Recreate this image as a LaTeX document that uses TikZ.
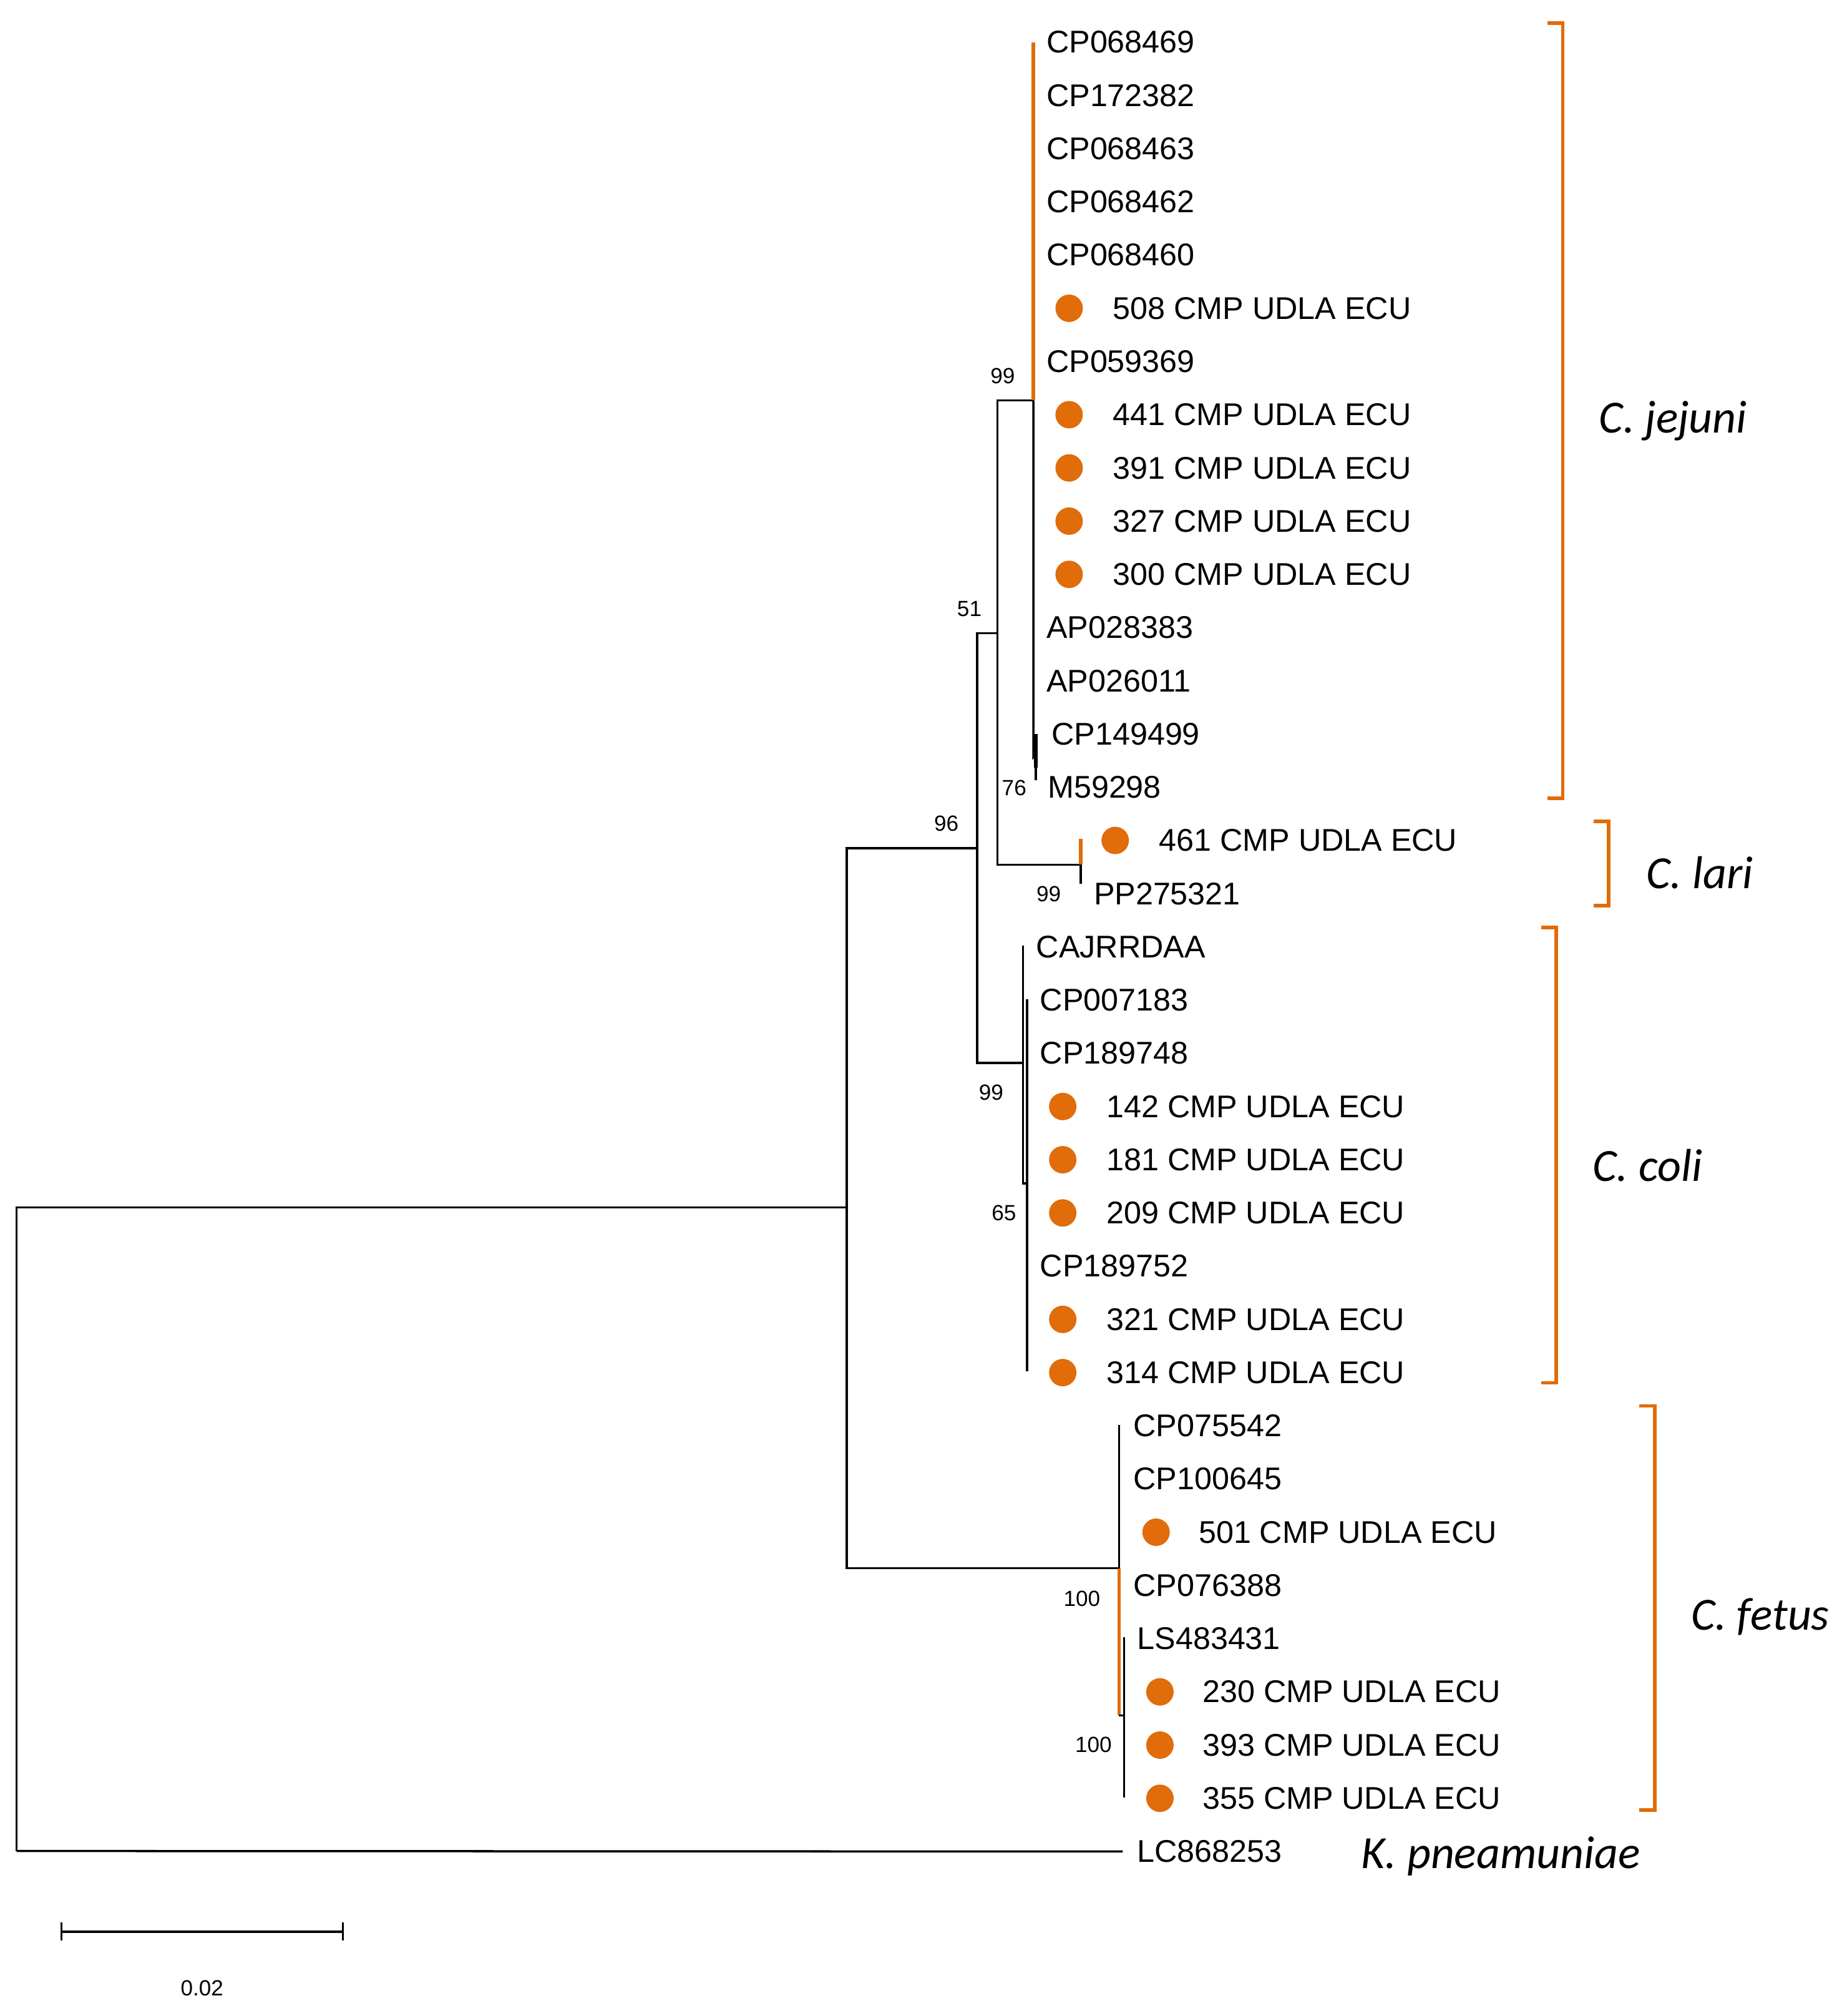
\documentclass[tikz,border=0pt]{standalone}
\usepackage{fontspec}
\setmainfont{Liberation Sans}
\newfontfamily\cladefont{Carlito}
\usepackage{xcolor}
\definecolor{treeorange}{RGB}{224,108,10}

\begin{document}
\begin{tikzpicture}[
    x=0.0205cm, y=-0.0205cm,
    branch/.style={line width=1pt, black},
    obranch/.style={line width=1.6pt, treeorange},
    leaf/.style={anchor=west, inner sep=0pt, font=\fontsize{14.3}{16}\selectfont},
    dot/.style={circle, fill=treeorange, minimum size=12.5pt, inner sep=0pt},
    boot/.style={inner sep=0pt, font=\fontsize{10}{12}\selectfont},
    clade/.style={anchor=west, inner sep=0pt, font=\cladefont\itshape\fontsize{21}{24}\selectfont},
    bracket/.style={line width=1.6pt, treeorange}
]
   \useasboundingbox (0,0) rectangle (1440,1576);

   % Leaves: index/text x/dot x (0 = none)/label
   \foreach \i/\tx/\dx/\lab in {
      0/818/0/CP068469, 1/818/0/CP172382, 2/818/0/CP068463, 3/818/0/CP068462,
      4/818/0/CP068460, 5/870/836/508 CMP UDLA ECU, 6/818/0/CP059369,
      7/870/836/441 CMP UDLA ECU, 8/870/836/391 CMP UDLA ECU,
      9/870/836/327 CMP UDLA ECU, 10/870/836/300 CMP UDLA ECU,
      11/818/0/AP028383, 12/818/0/AP026011, 13/822/0/CP149499, 14/819/0/M59298,
      15/906/872/461 CMP UDLA ECU, 16/855/0/PP275321,
      17/810/0/CAJRRDAA, 18/813/0/CP007183, 19/813/0/CP189748,
      20/865/831/142 CMP UDLA ECU, 21/865/831/181 CMP UDLA ECU,
      22/865/831/209 CMP UDLA ECU, 23/813/0/CP189752,
      24/865/831/321 CMP UDLA ECU, 25/865/831/314 CMP UDLA ECU,
      26/886/0/CP075542, 27/886/0/CP100645, 28/937/904/501 CMP UDLA ECU,
      29/886/0/CP076388, 30/889/0/LS483431,
      31/940/907/230 CMP UDLA ECU, 32/940/907/393 CMP UDLA ECU,
      33/940/907/355 CMP UDLA ECU, 34/889/0/LC868253}
   {
      \node[leaf] (leaf\i) at (\tx, 33+41.6*\i) {\lab};
      \ifnum\dx>0 \node[dot] (dot\i) at (\dx, 33+41.6*\i) {}; \fi
   }

   % Internal nodes
   \coordinate (root) at (13,944);
   \coordinate (n96) at (662,944);
   \coordinate (n51) at (764,663);
   \coordinate (n99a) at (780,495);
   \coordinate (jej) at (808,313);
   \coordinate (n76) at (810,590);
   \coordinate (lar) at (845,676);
   \coordinate (col) at (800,831);
   \coordinate (n65) at (803,925);
   \coordinate (fet) at (875,1226);
   \coordinate (n100) at (879,1341);

   % Branches
   \draw[branch] (13,1447) -- (root) -- (n96) -- (662,1226) -- (fet);
   \draw[branch] (13,1447) -- (leaf34.west -| 878,0);
   \draw[branch] (n96) |- (n51) |- (col);
   \draw[branch] (n51) |- (n99a) |- (jej);
   \draw[branch] (780,495) |- (lar);
   \draw[obranch] (808,33) -- (jej);
   \draw[branch] (jej) -- (808,592) -- (n76);
   \draw[branch, line width=1.8pt] (810,574) -- (810,600);
   \draw[branch] (810,600) -- (810,610);
   \draw[obranch] (845,656) -- (lar);
   \draw[branch] (lar) -- (845,691);
   \draw[branch] (800,739) -- (800,925) -- (n65);
   \draw[branch] (803,781) -- (803,1072);
   \draw[branch] (875,1114) -- (fet);
   \draw[obranch] (fet) -- (875,1341);
   \draw[branch] (875,1341) -- (n100);
   \draw[branch] (879,1280) -- (879,1405);

   % Bootstrap values
   \node[boot] (b99a) at (784,294) {99};
   \node[boot] (b51) at (758,476) {51};
   \node[boot] (b96) at (740,644) {96};
   \node[boot] (b76) at (793,616) {76};
   \node[boot] (b99b) at (820,699) {99};
   \node[boot] (b99c) at (775,854) {99};
   \node[boot] (b65) at (785,948) {65};
   \node[boot] (b100a) at (846,1250) {100};
   \node[boot] (b100b) at (855,1364) {100};

   % Clade brackets
   \draw[bracket] (1210,18) -- (1222,18) -- (1222,624) -- (1210,624);
   \draw[bracket] (1246,642) -- (1258,642) -- (1258,708) -- (1246,708);
   \draw[bracket] (1205,725) -- (1217,725) -- (1217,1081) -- (1205,1081);
   \draw[bracket] (1282,1099) -- (1294,1099) -- (1294,1415) -- (1282,1415);
   \node[clade] (cjej) at (1250,329) {C. jejuni};
   \node[clade] (clar) at (1287,682) {C. lari};
   \node[clade] (ccol) at (1245,911) {C. coli};
   \node[clade] (cfet) at (1322,1264) {C. fetus};
   \node[clade] (kpn) at (1064,1451) {K. pneamuniae};

   % Scale bar
   \draw[branch] (48,1510) -- (268,1510);
   \draw[branch] (48,1503) -- (48,1517);
   \draw[branch] (268,1503) -- (268,1517);
   \node[boot] (scale) at (158,1554) {0.02};
\end{tikzpicture}
\end{document}
